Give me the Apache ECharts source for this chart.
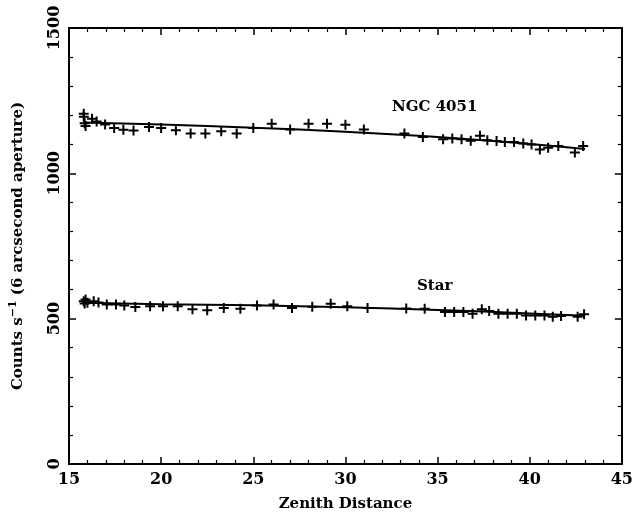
<!DOCTYPE html>
<html><head><meta charset="utf-8">
<script src="https://cdn.jsdelivr.net/npm/echarts@6/dist/echarts.min.js"></script>
<style>html,body{margin:0;padding:0;background:#fff}#c{width:636px;height:517px}</style>
</head><body><div id="c"></div>
<script>
var xTicks = [15, 20, 25, 30, 35, 40, 45];
var yTicks = [0, 500, 1000, 1500];

var ngcX = [15.8,15.8,15.85,15.9,16.25,16.5,16.96,17.45,17.95,18.5,19.34,20.0,20.8,21.6,22.4,23.26,24.1,25.0,26.0,27.0,28.0,29.0,30.0,31.0,33.2,34.2,35.3,35.8,36.3,36.8,37.3,37.7,38.2,38.65,39.15,39.65,40.1,40.55,41.0,41.55,42.45,42.9];
var ngcY = [1205,1195,1172,1163,1188,1178,1168,1156,1150,1147,1159,1156,1148,1137,1137,1145,1137,1156,1171,1151,1171,1171,1167,1151,1137,1125,1117,1120,1117,1112,1129,1114,1111,1108,1108,1103,1099,1082,1088,1094,1072,1094];

var starX = [15.8,15.85,15.9,16.0,16.34,16.6,17.05,17.55,18.0,18.6,19.4,20.1,20.9,21.7,22.5,23.4,24.3,25.2,26.1,27.1,28.2,29.2,30.1,31.2,33.3,34.3,35.4,35.9,36.4,36.9,37.4,37.8,38.3,38.8,39.3,39.8,40.3,40.8,41.25,41.7,42.6,42.95];
var starY = [560,552,566,555,560,556,549,549,545,540,543,543,543,532,529,537,534,545,549,537,541,551,543,537,535,534,523,523,523,517,532,526,517,517,517,511,511,511,507,509,507,515];

var fitX = [15.8, 20, 25, 30, 35, 40, 43];
var ngcFit = [1175, 1168, 1157, 1143, 1125, 1101, 1084];
var starFit = [555, 550, 546, 539, 530, 518, 510];

function pairs(xs, ys) { return xs.map(function (x, i) { return [x, ys[i]]; }); }

var FONT = 'DejaVu Serif';
var plus = 'path://M-1,-5 H1 V-1 H5 V1 H1 V5 H-1 V1 H-5 V-1 H-1 Z';

var chart = echarts.init(document.getElementById('c'), null, {renderer: 'canvas'});
var axisLineStyle = {color: '#000', width: 2};
var tickStyle = {show: true, inside: true, length: 7, lineStyle: {color: '#000', width: 1.5}};
var minorStyle = {show: true, splitNumber: 5, length: 4, lineStyle: {color: '#000', width: 1.2}};

chart.setOption({
  animation: false,
  backgroundColor: '#fff',
  grid: {left: 65, right: 11, top: 28, bottom: 47, containLabel: false},
  xAxis: [{
    type: 'value', min: 15, max: 45, interval: 5, position: 'bottom',
    name: 'Zenith Distance', nameLocation: 'middle', nameGap: 33,
    nameTextStyle: {fontFamily: FONT, fontWeight: 'bold', fontSize: 15, color: '#000'},
    axisLine: {show: true, onZero: false, lineStyle: axisLineStyle},
    axisTick: tickStyle, minorTick: minorStyle,
    axisLabel: {fontFamily: FONT, fontWeight: 'bold', fontSize: 16, color: '#000', margin: 8,
      formatter: function (v) { return xTicks.indexOf(v) >= 0 ? String(v) : ''; }},
    splitLine: {show: false}
  }, {
    type: 'value', min: 15, max: 45, interval: 5, position: 'top',
    axisLine: {show: true, onZero: false, lineStyle: axisLineStyle},
    axisTick: tickStyle, minorTick: minorStyle,
    axisLabel: {show: false}, splitLine: {show: false}
  }],
  yAxis: [{
    type: 'value', min: 0, max: 1500, interval: 500, position: 'left',
    name: 'Counts s{sup|\u22121} (6 arcsecond aperture)', nameLocation: 'middle', nameGap: 40,
    nameRotate: 90,
    nameTextStyle: {fontFamily: FONT, fontWeight: 'bold', fontSize: 15, color: '#000',
      rich: {sup: {fontFamily: FONT, fontWeight: 'bold', fontSize: 11, color: '#000', verticalAlign: 'bottom', padding: [0, 0, 10, 0]}}},
    axisLine: {show: true, onZero: false, lineStyle: axisLineStyle},
    axisTick: tickStyle, minorTick: minorStyle,
    axisLabel: {fontFamily: FONT, fontWeight: 'bold', fontSize: 16, color: '#000', rotate: 90, margin: 6,
      formatter: function (v) { return yTicks.indexOf(v) >= 0 ? String(v) : ''; }},
    splitLine: {show: false}
  }, {
    type: 'value', min: 0, max: 1500, interval: 500, position: 'right',
    axisLine: {show: true, onZero: false, lineStyle: axisLineStyle},
    axisTick: tickStyle, minorTick: minorStyle,
    axisLabel: {show: false}, splitLine: {show: false}
  }],
  series: [
    {type: 'scatter', name: 'NGC 4051', data: pairs(ngcX, ngcY), symbol: plus, symbolSize: 10,
      itemStyle: {color: '#000', opacity: 1}},
    {type: 'scatter', name: 'Star', data: pairs(starX, starY), symbol: plus, symbolSize: 10,
      itemStyle: {color: '#000', opacity: 1}},
    {type: 'line', data: pairs(fitX, ngcFit), smooth: true, showSymbol: false, symbol: 'none',
      lineStyle: {color: '#000', width: 2}},
    {type: 'line', data: pairs(fitX, starFit), smooth: true, showSymbol: false, symbol: 'none',
      lineStyle: {color: '#000', width: 2}}
  ],
  graphic: [
    {type: 'text', left: 392, top: 100, style: {text: 'NGC 4051', fontFamily: FONT, fontWeight: 'bold', fontSize: 15, fill: '#000'}},
    {type: 'text', left: 417, top: 279, style: {text: 'Star', fontFamily: FONT, fontWeight: 'bold', fontSize: 15, fill: '#000'}}
  ]
});
</script>
</body></html>
